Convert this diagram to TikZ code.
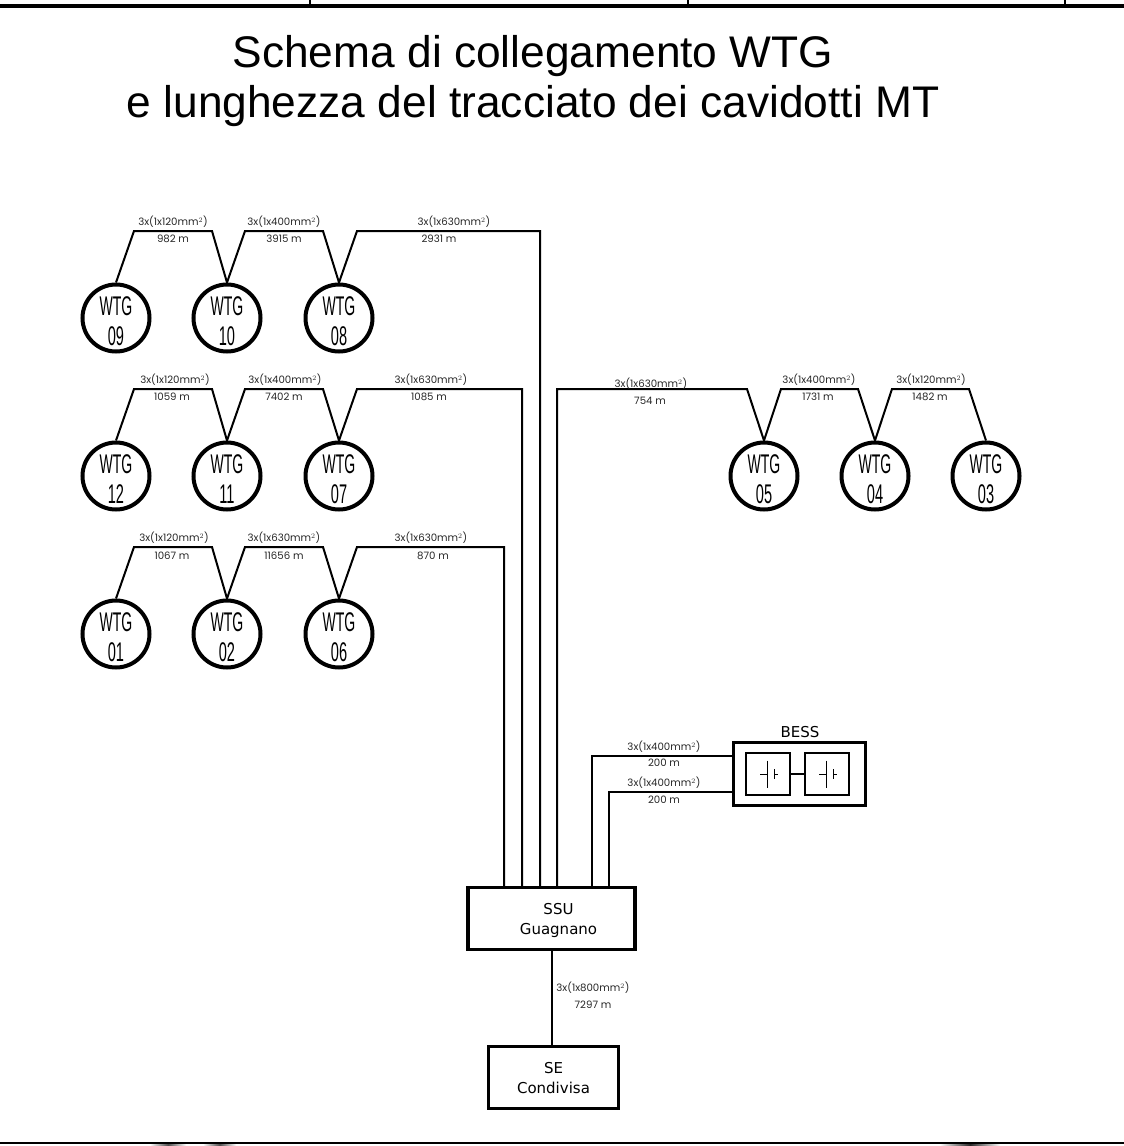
\documentclass[tikz,border=0pt]{standalone}
\usepackage{graphicx}
\usepackage{fontspec}
\setmainfont{Liberation Sans}
\newfontfamily\verd{DejaVu Sans}
\newfontfamily\geom{Poppins}
\tikzset{
  wtg/.style={circle,draw,line width=4pt,minimum size=67pt,inner sep=0pt},
  wttext/.style={inner sep=0pt,font=\fontsize{27}{27}\selectfont},
  wire/.style={draw,line width=2pt,line join=miter},
  heavybox/.style={draw,line width=3.5pt,rectangle,inner sep=0pt,align=center,font=\verd\fontsize{15}{20}\selectfont},
  cell/.style={draw,line width=1.6pt,rectangle,inner sep=0pt,minimum width=44pt,minimum height=42pt},
  lab/.style={inner sep=0pt,font=\geom\fontsize{10.2}{11}\selectfont,text=black!85},
  ttl/.style={inner sep=0pt,font=\fontsize{44.3}{50}\selectfont}
}
\newcommand{\sq}{$^{2}$}
\begin{document}
\begin{tikzpicture}[x=1pt,y=-1pt]
\useasboundingbox (0,0) rectangle (1124,1146);
% frame
\fill[black] (0,3.7) rectangle (1124,7.5);
\draw[line width=1.2pt] (310,0) -- (310,4) (688,0) -- (688,4) (1065,0) -- (1065,4);
\fill[black] (0,1142) rectangle (1124,1144);
\shade[left color=white,right color=white,middle color=black!70] (150,1144) rectangle (186,1146);
\shade[left color=white,right color=white,middle color=black!70] (203,1144) rectangle (236,1146);
\shade[left color=white,right color=white,middle color=black!85] (940,1144) rectangle (1000,1146);
% title
\node[ttl] (t1) at (533,56) {Schema di collegamento WTG};
\node[ttl] (t2) at (533,106) {e lunghezza del tracciato dei cavidotti MT};
% turbines
\foreach \n/\l/\x/\y in {w09/09/116/318,w10/10/227/318,w08/08/339/318,
  w12/12/116/476,w11/11/227/476,w07/07/339/476,
  w01/01/116/634,w02/02/227/634,w06/06/339/634,
  w05/05/764/476,w04/04/875/476,w03/03/986/476}{
  \node[wtg] (\n) at (\x,\y) {};
  \node[wttext] (\n a) at ([yshift=12pt]\n.center) {\scalebox{0.52}[1]{\vphantom{0}WTG}};
  \node[wttext] (\n b) at ([yshift=-18pt]\n.center) {\scalebox{0.54}[1]{\vphantom{0}\l}};
}
% boxes
\node[heavybox,minimum width=167pt,minimum height=62pt] (ssu) at (551.5,918.5) {\rule{0pt}{15pt}\hspace*{14pt}SSU\\\hspace*{14pt}Guagnano};
\node[heavybox,minimum width=130pt,minimum height=62pt] (se) at (553.5,1077.5) {\rule{0pt}{13pt}SE\\Condivisa};
\node[heavybox,minimum width=132pt,minimum height=63pt] (bess) at (799.5,774) {};
\node[inner sep=0pt,font=\verd\fontsize{15}{17}\selectfont] (besslab) at (800,732) {BESS};
\node[cell] (c1) at (768,774) {};
\node[cell] (c2) at (827,774) {};
\draw[wire] (c1) -- (c2);
\foreach \c in {c1,c2}{
  \draw[line width=1pt] ([xshift=-8pt]\c.center) -- ++(7,0) ([xshift=-1pt,yshift=13.5pt]\c.center) -- ++(0,27)
   ([xshift=6pt,yshift=5pt]\c.center) -- ++(0,10) ([xshift=6pt]\c.center) -- ++(4,0);
}
% cables
\path[wire] (w09.north) -- (134,231) -- (212,231) -- (w10.north) -- (245,231) -- (323,231) -- (w08.north) -- (357,231) -- (540,231) -- (ssu.north -| 540,0);
\path[wire] (w12.north) -- (134,389) -- (212,389) -- (w11.north) -- (245,389) -- (323,389) -- (w07.north) -- (357,389) -- (522,389) -- (ssu.north -| 522,0);
\path[wire] (w01.north) -- (134,547) -- (212,547) -- (w02.north) -- (245,547) -- (323,547) -- (w06.north) -- (357,547) -- (504,547) -- (ssu.north -| 504,0);
\path[wire] (w03.north) -- (969,389) -- (892,389) -- (w04.north) -- (858,389) -- (781,389) -- (w05.north) -- (747,389) -- (557,389) -- (ssu.north -| 557,0);
\path[wire] (bess.west |- 0,756) -- (592,756) -- (ssu.north -| 592,0);
\path[wire] (bess.west |- 0,792) -- (609,792) -- (ssu.north -| 609,0);
\path[wire] (ssu.south) -- (ssu.south |- se.north);
% labels
\foreach \nm/\x/\y/\t in {
 a1/173/222/120, a2/284/222/400, a3/454/222/630,
 b1/175/380/120, b2/285/380/400, b3/431/380/630,
 c1/174/538/120, c2/284/538/630, c3/431/538/630,
 d1/651/384/630, d2/819/380/400, d3/931/380/120,
 e1/664/747/400, e2/664/783/400,f1/593/988/800}
 \node[lab] (l\nm) at (\x,\y) {3x(1x\t mm\sq)};
\foreach \nm/\x/\y/\t in {
 a1/173/239/982, a2/284/239/3915, a3/439/239/2931,
 b1/172/397/1059, b2/284/397/7402, b3/429/397/1085,
 c1/172/556/1067, c2/284/556/11656, c3/433/556/870,
 d1/650/401/754, d2/818/397/1731, d3/930/397/1482,
 e1/664/763/200, e2/664/800/200, f1/593/1005/7297}
 \node[lab] (m\nm) at (\x,\y) {\t\ m};
\end{tikzpicture}
\end{document}
